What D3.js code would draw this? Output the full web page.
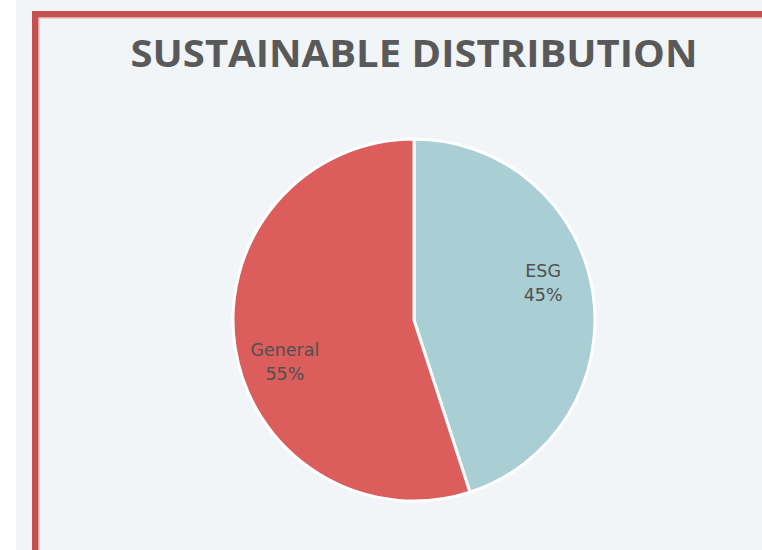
<!DOCTYPE html>
<html>
<head>
<meta charset="utf-8">
<script src="https://cdn.jsdelivr.net/npm/d3@7"></script>
<style>
  html, body { margin: 0; padding: 0; background: #ffffff; }
  svg { display: block; }
</style>
</head>
<body>
<svg id="chart" width="762" height="550"></svg>
<script>
// Distribution shares
const categories = ["ESG", "General"];
const shares = [45, 55];
const colors = ["#a9ced4", "#db5d5c"];
const title = "SUSTAINABLE DISTRIBUTION";

const width = 762, height = 550;
const svg = d3.select("#chart");

// Panel background and framed border (top + left)
svg.append("rect").attr("x", 16).attr("y", 0).attr("width", width - 16).attr("height", height).attr("fill", "#f2f5f7");
svg.append("rect").attr("x", 32).attr("y", 11).attr("width", width - 32).attr("height", 6.5).attr("fill", "#c4504f");
svg.append("rect").attr("x", 32).attr("y", 11).attr("width", 6.5).attr("height", height - 11).attr("fill", "#c4504f");
svg.append("rect").attr("x", 38.5).attr("y", 17.5).attr("width", 1).attr("height", height).attr("fill", "#e6a8a7");
svg.append("rect").attr("x", 38.5).attr("y", 17.5).attr("width", width).attr("height", 1).attr("fill", "#e6a8a7");

// Title
svg.append("text")
  .attr("x", 414).attr("y", 67)
  .attr("text-anchor", "middle")
  .attr("font-family", "'Open Sans', Lato, sans-serif")
  .attr("font-weight", 700)
  .attr("font-size", 38)
  .attr("fill", "#595959")
  .attr("textLength", 567)
  .attr("lengthAdjust", "spacingAndGlyphs")
  .text(title);

// Pie
const cx = 414, cy = 320, r = 181;
const g = svg.append("g").attr("transform", `translate(${cx},${cy})`);

const pie = d3.pie().sort(null).value(d => d.value);
const data = pie(categories.map((c, i) => ({ name: c, value: shares[i], color: colors[i] })));
const arc = d3.arc().innerRadius(0).outerRadius(r);

g.selectAll("path.slice")
  .data(data)
  .join("path")
  .attr("class", "slice")
  .attr("d", arc)
  .attr("fill", d => d.data.color)
  .attr("stroke", "#ffffff")
  .attr("stroke-width", 3)
  .attr("stroke-linejoin", "round");

// Labels: category name and percentage
const labelRadius = 135;
const labelTurn = -8 * Math.PI / 180;
const total = d3.sum(shares);
const fmt = d3.format(".0%");

const labels = g.selectAll("text.lbl")
  .data(data)
  .join("text")
  .attr("class", "lbl")
  .attr("text-anchor", "middle")
  .attr("font-family", "'DejaVu Sans', 'Noto Sans', sans-serif")
  .attr("font-size", 17.5)
  .attr("fill", "#505050")
  .attr("transform", d => {
    const a = (d.startAngle + d.endAngle) / 2 + labelTurn;
    return `translate(${labelRadius * Math.sin(a)},${-labelRadius * Math.cos(a)})`;
  });
labels.append("tspan").attr("x", 0).attr("dy", -3.5).text(d => d.data.name);
labels.append("tspan").attr("x", 0).attr("dy", 24).text(d => fmt(d.data.value / total));
</script>
</body>
</html>
